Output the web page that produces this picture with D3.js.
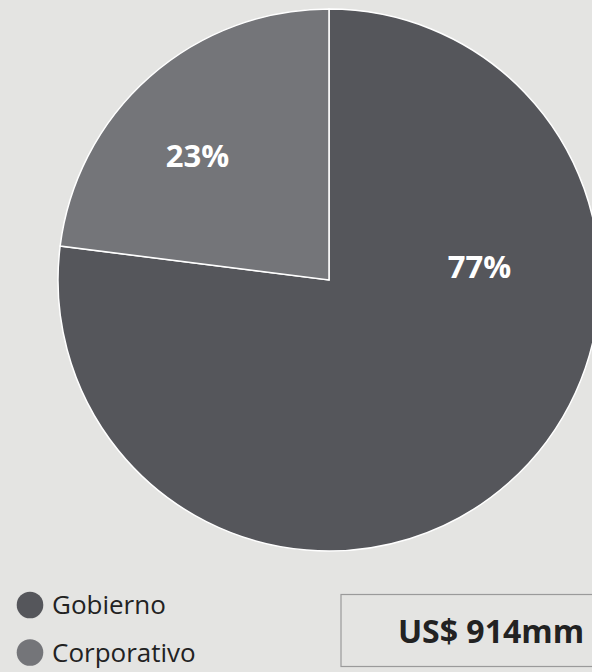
<!DOCTYPE html>
<html>
<head>
<meta charset="utf-8">
<script src="https://cdn.jsdelivr.net/npm/d3@7"></script>
<style>
  html, body { margin: 0; padding: 0; background: #e4e4e2; }
  svg { display: block; font-family: "Open Sans", sans-serif; }
</style>
</head>
<body>
<svg id="chart" width="592" height="672"></svg>
<script>
const categories = ['Gobierno', 'Corporativo'];
const shares = [77, 23];
const totalLabel = 'US$ 914mm';

(function () {
  const cx = 329, cy = 280, radius = 271;
  const colors = ['#55565b', '#747579'];

  const svg = d3.select('#chart');

  const color = d3.scaleOrdinal().domain(categories).range(colors);

  const data = categories.map((c, i) => ({ name: c, value: shares[i] }));

  const pie = d3.pie().sort(null).value(d => d.value);
  const arcs = pie(data);

  const arc = d3.arc().innerRadius(0).outerRadius(radius);

  const g = svg.append('g').attr('transform', `translate(${cx},${cy})`);

  g.selectAll('path')
    .data(arcs)
    .enter().append('path')
    .attr('d', arc)
    .attr('fill', d => color(d.data.name))
    .attr('stroke', '#ffffff')
    .attr('stroke-width', 1.5)
    .attr('stroke-linejoin', 'miter');

  // label placement: fraction along the slice and radial distance
  const labelPlace = { 'Gobierno': { t: 0.307, r: 151 }, 'Corporativo': { t: 0.437, r: 181 } };

  g.selectAll('text.pct')
    .data(arcs)
    .enter().append('text')
    .attr('class', 'pct')
    .attr('transform', d => {
      const p = labelPlace[d.data.name];
      const a = d.startAngle + (d.endAngle - d.startAngle) * p.t;
      return `translate(${Math.sin(a) * p.r},${-Math.cos(a) * p.r})`;
    })
    .attr('text-anchor', 'middle')
    .attr('dy', '0.36em')
    .attr('fill', '#ffffff')
    .attr('font-size', 31)
    .attr('font-weight', 700)
    .text(d => d.data.value + '%');

  // legend
  const legend = svg.append('g')
    .attr('transform', 'translate(30,605)')
    .selectAll('g')
    .data(categories)
    .enter().append('g')
    .attr('transform', (d, i) => `translate(0,${i * 47.5})`);

  legend.append('circle')
    .attr('r', 13.3)
    .attr('fill', color);

  legend.append('text')
    .attr('x', 22)
    .attr('y', 0)
    .attr('dy', '0.35em')
    .attr('fill', '#222222')
    .attr('font-size', 26)
    .text(d => d);

  // total box
  const box = svg.append('g').attr('transform', 'translate(341,594.5)');
  box.append('rect')
    .attr('width', 300)
    .attr('height', 72)
    .attr('fill', 'none')
    .attr('stroke', '#9a9a9a')
    .attr('stroke-width', 1.2);
  box.append('text')
    .attr('x', 150)
    .attr('y', 48.5)
    .attr('text-anchor', 'middle')
    .attr('fill', '#222222')
    .attr('font-size', 32)
    .attr('font-weight', 700)
    .text(totalLabel);
}());
</script>
</body>
</html>
